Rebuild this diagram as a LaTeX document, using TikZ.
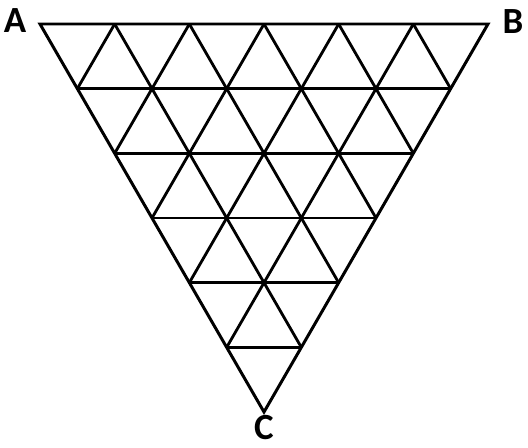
\documentclass[tikz,border=0pt]{standalone}
\usepackage{fontspec}
\setmainfont{Carlito}
\usetikzlibrary{calc}

\begin{document}
\begin{tikzpicture}[
  x=0.02cm, y=-0.02cm,
  every node/.style={font=\fontsize{21}{25}\selectfont\bfseries},
  edge/.style ={draw=black, line width=1.7pt, line join=miter},
  grid/.style ={draw=black, line width=1.6pt},
  lbl/.style  ={inner sep=0pt, text=black},
]
\useasboundingbox (0,0) rectangle (528,447);

%% Corners of the big triangle (pixel coordinates)
\coordinate (A) at (40,24);
\coordinate (B) at (488,24);
\coordinate (C) at (264,412);

%% ─── Grid lines (each side split into 6) ─────────────────────────────────────
% horizontal rows
\foreach \i in {1,...,5} {
  \draw[grid] ($(A)!\i/6!(C)$) -- ($(B)!\i/6!(C)$);
}
% lines parallel to AC
\foreach \i in {1,...,5} {
  \draw[grid] ($(A)!\i/6!(B)$) -- ($(C)!\i/6!(B)$);
}
% lines parallel to BC
\foreach \i in {1,...,5} {
  \draw[grid] ($(B)!\i/6!(A)$) -- ($(C)!\i/6!(A)$);
}

%% ─── Outline ─────────────────────────────────────────────────────────────────
\draw[edge] (A) -- (B) -- (C) -- cycle;

%% ─── Corner labels ───────────────────────────────────────────────────────────
\node[lbl] (LA) at (15,21)  {A};
\node[lbl] (LB) at (513,22) {B};
\node[lbl] (LC) at (264,428) {C};

\end{tikzpicture}
\end{document}
